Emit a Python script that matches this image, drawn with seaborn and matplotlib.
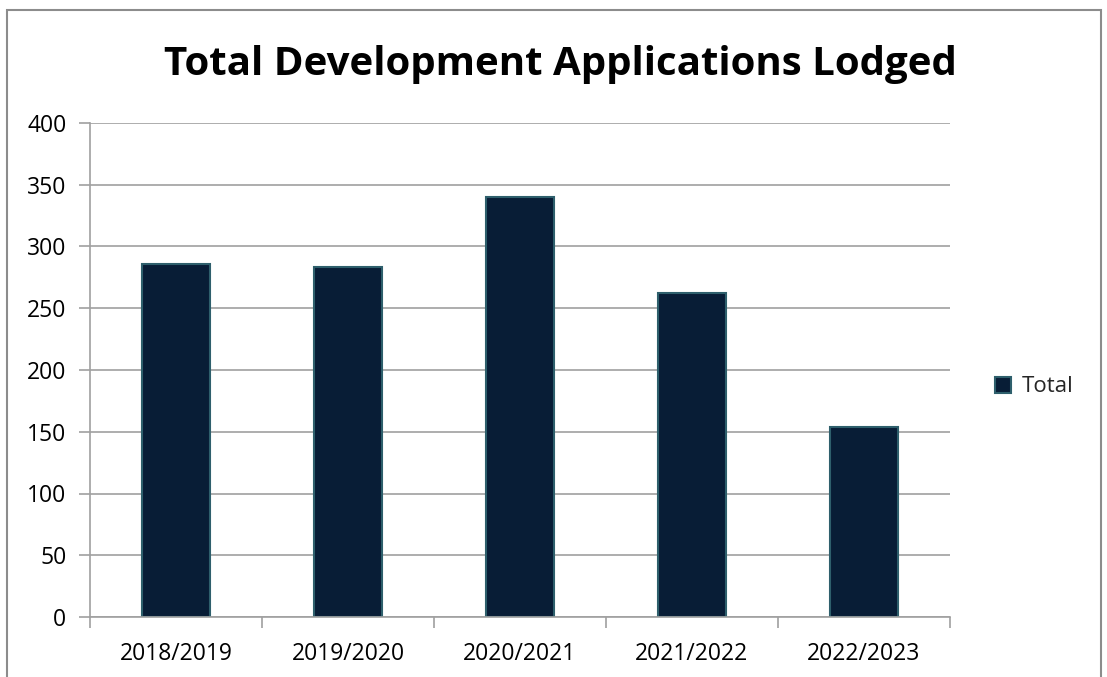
import matplotlib
matplotlib.use("Agg")
import matplotlib.pyplot as plt
import seaborn as sns
import pandas as pd
from matplotlib.patches import Rectangle, Patch

years = ["2018/2019", "2019/2020", "2020/2021", "2021/2022", "2022/2023"]
totals = [286, 283, 340, 262, 154]
yticks = [0, 50, 100, 150, 200, 250, 300, 350, 400]

sns.set_theme(style="white")
plt.rcParams['font.family'] = ['Open Sans', 'DejaVu Sans']

df = pd.DataFrame({"Year": years, "Total": totals})

W, H = 1107, 677
fig = plt.figure(figsize=(W / 100, H / 100), dpi=100)
ax = fig.add_axes([90 / W, 1 - 617 / H, (950 - 90) / W, (617 - 123) / H])

sns.barplot(data=df, x="Year", y="Total", ax=ax, color="#081d36",
            edgecolor="#2e5f6c", linewidth=1.5, width=0.4, saturation=1)

ax.set_xlim(-0.5, 4.5)
ax.set_ylim(0, 400)
ax.set_yticks(yticks)
ax.set_xlabel("")
ax.set_ylabel("")
ax.yaxis.grid(True, color="#a0a0a0", linewidth=1.2)
ax.set_axisbelow(True)
for s in ["top", "right"]:
    ax.spines[s].set_visible(False)
for s in ["left", "bottom"]:
    ax.spines[s].set_color("#a0a0a0")
    ax.spines[s].set_linewidth(1.2)

ax.tick_params(axis="y", which="major", length=8, width=1.2, color="#a0a0a0",
               labelsize=16.5, labelcolor="black", pad=9, left=True)
ax.set_xticks(range(len(years)))
ax.set_xticklabels(years)
ax.set_xticks([i - 0.5 for i in range(len(years) + 1)], minor=True)
ax.tick_params(axis="x", which="major", length=0, labelsize=16.5, labelcolor="black", pad=18)
ax.tick_params(axis="x", which="minor", length=8, width=1.2, color="#a0a0a0", bottom=True)

fig.text(560 / W, 1 - 64 / H, "Total Development Applications Lodged",
         ha="center", va="center", fontsize=29, fontweight="bold", color="black")

leg = ax.legend(handles=[Patch(facecolor="#081d36", edgecolor="#2e5f6c", linewidth=1.5, label="Total")],
                loc="center left", bbox_to_anchor=(975 / W, 1 - 387 / H),
                bbox_transform=fig.transFigure, frameon=False, fontsize=16,
                handlelength=0.7, handleheight=0.7, handletextpad=0.5)

fig.patches.append(Rectangle((7 / W, -0.05), (1101 - 7) / W, 1.05 - 10 / H,
                             transform=fig.transFigure, fill=False,
                             edgecolor="#8c8c8c", linewidth=1.5))

fig.savefig("out.png", dpi=100)
